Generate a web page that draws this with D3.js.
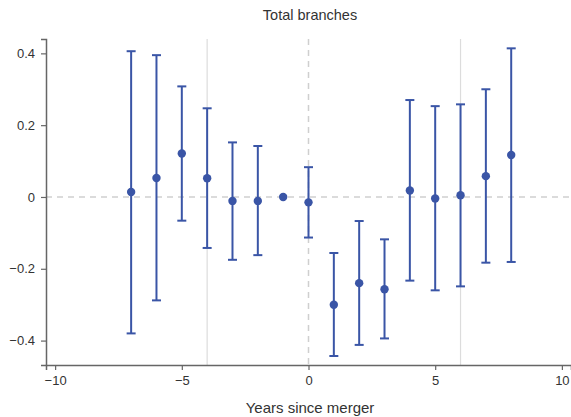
<!DOCTYPE html>
<html>
<head>
<script src="https://d3js.org/d3.v7.min.js"></script>
<style>
body { margin: 0; background: #fff; }
svg text { font-family: "Liberation Sans", Arial, sans-serif; fill: #333; }
</style>
</head>
<body>
<div class="chart"></div>
<script>
var years = [-7, -6, -5, -4, -3, -2, -1, 0, 1, 2, 3, 4, 5, 6, 7, 8];
var estimates = [0.014, 0.053, 0.121, 0.052, -0.011, -0.011, 0, -0.015, -0.300, -0.240, -0.257, 0.018, -0.004, 0.005, 0.058, 0.117];
var lower = [-0.380, -0.288, -0.066, -0.142, -0.175, -0.162, null, -0.113, -0.443, -0.412, -0.394, -0.233, -0.260, -0.249, -0.183, -0.181];
var upper = [0.406, 0.395, 0.308, 0.247, 0.152, 0.142, null, 0.083, -0.156, -0.067, -0.118, 0.270, 0.253, 0.258, 0.300, 0.414];
var xTicks = [-10, -5, 0, 5, 10];
var yTicks = [-0.4, -0.2, 0, 0.2, 0.4];
var refLines = [-4, 6];

var w = 571, h = 417;
var margin = {top: 39, right: 0, bottom: 52, left: 46};
var blue = "#3a55a6";

var svg = d3.select(".chart").append("svg")
  .attr("width", w)
  .attr("height", h);

var x = d3.scaleLinear().domain([-10.36, 10.36]).range([margin.left, w - margin.right]);
var y = d3.scaleLinear().domain([-0.468, 0.44]).range([h - margin.bottom, margin.top]);

var data = years.map(function(d, i) {
  return {x: d, est: estimates[i], lo: lower[i], hi: upper[i]};
});

// reference lines
svg.selectAll(".ref")
  .data(refLines)
  .enter().append("line")
  .attr("x1", function(d) { return x(d); })
  .attr("x2", function(d) { return x(d); })
  .attr("y1", y.range()[1])
  .attr("y2", y.range()[0])
  .attr("stroke", "#dcdcdc")
  .attr("stroke-width", 1.2);

svg.append("line")
  .attr("x1", x(0)).attr("x2", x(0))
  .attr("y1", y.range()[1]).attr("y2", y.range()[0])
  .attr("stroke", "#cfcfcf")
  .attr("stroke-width", 1.5)
  .attr("stroke-dasharray", "6,5");

svg.append("line")
  .attr("x1", margin.left).attr("x2", w - margin.right)
  .attr("y1", y(0)).attr("y2", y(0))
  .attr("stroke", "#cfcfcf")
  .attr("stroke-width", 1.5)
  .attr("stroke-dasharray", "6,5");

// axes
var xAxis = svg.append("g")
  .attr("transform", "translate(0," + (h - margin.bottom) + ")")
  .call(d3.axisBottom(x).tickValues(xTicks).tickSize(5).tickPadding(6)
    .tickFormat(function(d) { return d < 0 ? "\u2212" + Math.abs(d) : d; }));
var yAxis = svg.append("g")
  .attr("transform", "translate(" + margin.left + ",0)")
  .call(d3.axisLeft(y).tickValues(yTicks).tickSize(5).tickPadding(6)
    .tickFormat(function(d) { return d === 0 ? "0" : (d < 0 ? "\u2212" : "") + Math.abs(d).toFixed(1); }));

[xAxis, yAxis].forEach(function(g) {
  g.select(".domain").attr("stroke", "#666").attr("stroke-width", 1.5);
  g.selectAll(".tick line").attr("stroke", "#666").attr("stroke-width", 1.2);
  g.selectAll(".tick text").attr("font-size", 13).style("fill", "#333");
});

// confidence intervals
var ci = data.filter(function(d) { return d.lo !== null; });
var bars = svg.append("g");
bars.selectAll(".ci")
  .data(ci)
  .enter().append("line")
  .attr("x1", function(d) { return x(d.x); })
  .attr("x2", function(d) { return x(d.x); })
  .attr("y1", function(d) { return y(d.lo); })
  .attr("y2", function(d) { return y(d.hi); })
  .attr("stroke", blue)
  .attr("stroke-width", 2);
["lo", "hi"].forEach(function(k) {
  bars.selectAll(".cap-" + k)
    .data(ci)
    .enter().append("line")
    .attr("x1", function(d) { return x(d.x) - 4.5; })
    .attr("x2", function(d) { return x(d.x) + 4.5; })
    .attr("y1", function(d) { return y(d[k]); })
    .attr("y2", function(d) { return y(d[k]); })
    .attr("stroke", blue)
    .attr("stroke-width", 2);
});

svg.append("g").selectAll("circle")
  .data(data)
  .enter().append("circle")
  .attr("cx", function(d) { return x(d.x); })
  .attr("cy", function(d) { return y(d.est); })
  .attr("r", 4.2)
  .attr("fill", blue);

// titles
svg.append("text")
  .attr("x", 310).attr("y", 20)
  .attr("text-anchor", "middle")
  .attr("font-size", 14.5)
  .text("Total branches");

svg.append("text")
  .attr("x", 310).attr("y", 413)
  .attr("text-anchor", "middle")
  .attr("font-size", 15)
  .text("Years since merger");
</script>
</body>
</html>
